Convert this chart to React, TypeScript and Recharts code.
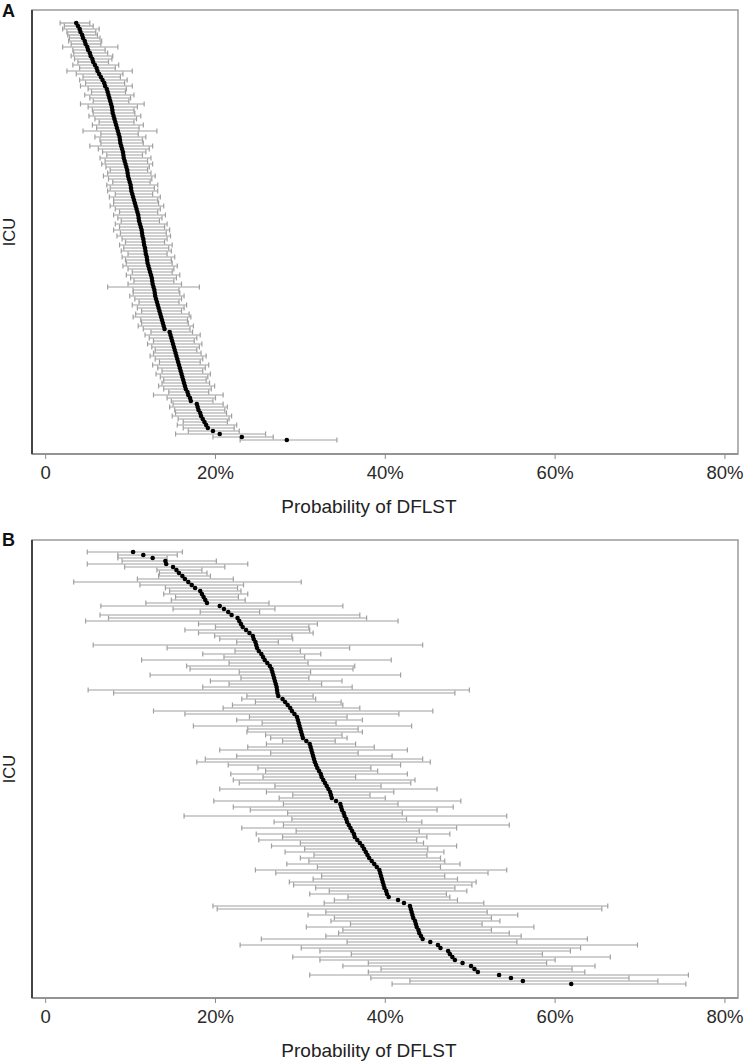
import React from 'react';
import { ScatterChart, Scatter, XAxis, YAxis, ErrorBar, ReferenceArea } from 'recharts';

// ---------- Tick labels ----------
const xTicks = [0, 20, 40, 60, 80];
const tickLabels = ['0', '20%', '40%', '60%', '80%'];
const axisTitle = 'Probability of DFLST';

// ---------- Panel A: ICU-level probability (%) with 95% interval ----------
const aPoint = [
  3.6, 3.8, 4.0, 4.1, 4.3, 4.4, 4.6, 4.7, 4.9, 5.0,
  5.2, 5.3, 5.5, 5.6, 5.8, 6.0, 6.1, 6.3, 6.5, 6.7,
  6.9, 7.0, 7.2, 7.3, 7.4, 7.5, 7.6, 7.7, 7.8, 7.85,
  7.9, 8.0, 8.1, 8.2, 8.3, 8.4, 8.5, 8.6, 8.7, 8.75,
  8.8, 8.9, 9.0, 9.1, 9.15, 9.2, 9.3, 9.4, 9.5, 9.6,
  9.65, 9.7, 9.8, 9.9, 10.0, 10.05, 10.1, 10.2, 10.3, 10.4,
  10.5, 10.6, 10.7, 10.8, 10.9, 10.95, 11.0, 11.1, 11.2, 11.3,
  11.35, 11.4, 11.5, 11.55, 11.6, 11.7, 11.75, 11.8, 11.9, 11.95,
  12.0, 12.1, 12.2, 12.3, 12.4, 12.5, 12.55, 12.6, 12.7, 12.8,
  12.85, 12.9, 13.0, 13.1, 13.2, 13.3, 13.4, 13.5, 13.6, 13.7,
  13.8, 13.9, 14.0, 14.6, 14.7, 14.8, 14.9, 15.0, 15.1, 15.2,
  15.3, 15.4, 15.5, 15.6, 15.7, 15.8, 15.9, 16.0, 16.1, 16.2,
  16.3, 16.4, 16.5, 16.7, 16.8, 17.0, 17.1, 17.8, 17.9, 18.0,
  18.2, 18.3, 18.5, 18.7, 18.9, 19.1, 19.7, 20.5, 23.1, 28.4,
];
const aLow = [
  1.7, 2.2, 2.0, 2.5, 2.6, 2.8, 2.7, 3.0, 2.0, 3.2,
  3.3, 3.0, 3.4, 3.8, 3.2, 4.0, 2.5, 3.6, 4.4, 4.0,
  4.7, 4.1, 5.0, 5.4, 4.6, 5.2, 5.6, 4.1, 5.0, 5.5,
  5.6, 5.1, 5.8, 6.3, 5.5, 6.0, 4.4, 6.5, 5.8, 6.4,
  6.5, 5.2, 6.2, 6.7, 7.2, 6.4, 7.0, 6.6, 7.1, 7.6,
  7.3, 6.8, 7.4, 7.9, 7.2, 7.6, 7.3, 8.2, 7.5, 8.0,
  8.0, 7.6, 8.2, 8.7, 8.0, 8.5, 8.9, 8.2, 8.7, 8.0,
  8.8, 8.4, 9.0, 9.4, 8.7, 9.2, 8.9, 9.7, 9.0, 9.4,
  9.5, 9.1, 9.7, 10.2, 9.5, 10.0, 10.4, 9.7, 7.3, 10.3,
  10.3, 9.9, 10.5, 11.0, 10.2, 10.8, 11.3, 10.6, 10.3, 11.2,
  11.3, 10.9, 11.5, 12.4, 11.7, 12.2, 12.7, 12.0, 12.5, 12.9,
  12.7, 12.3, 12.9, 13.4, 12.6, 13.2, 13.7, 13.0, 13.5, 13.9,
  13.7, 13.3, 13.9, 14.5, 12.7, 14.3, 14.8, 15.0, 14.6, 15.2,
  15.3, 14.9, 15.6, 16.2, 15.5, 16.2, 16.8, 15.3, 19.7, 22.9,
];
const aHigh = [
  5.2, 5.6, 6.3, 5.9, 6.1, 6.4, 6.6, 6.5, 8.5, 7.0,
  7.3, 7.9, 7.8, 7.4, 8.6, 8.2, 10.2, 9.1, 8.8, 9.6,
  9.3, 10.2, 9.5, 9.4, 10.4, 10.0, 9.8, 11.6, 10.8, 10.4,
  10.5, 11.2, 10.7, 10.4, 11.5, 11.0, 13.1, 10.9, 11.8, 11.4,
  11.5, 12.6, 12.2, 11.8, 11.4, 12.4, 12.0, 12.6, 12.2, 12.0,
  12.4, 12.9, 12.5, 12.3, 13.2, 12.8, 13.2, 12.6, 13.5, 13.2,
  13.3, 13.9, 13.5, 13.2, 14.1, 13.7, 13.4, 14.3, 14.0, 14.6,
  14.2, 14.7, 14.3, 14.0, 14.9, 14.5, 14.8, 14.3, 15.2, 14.8,
  14.9, 15.5, 15.1, 14.9, 15.8, 15.4, 15.1, 16.0, 18.1, 15.7,
  15.8, 16.3, 16.0, 15.7, 16.6, 16.3, 16.0, 16.9, 17.1, 16.7,
  16.8, 17.4, 17.0, 17.3, 18.2, 17.8, 17.5, 18.4, 18.1, 17.8,
  18.3, 18.9, 18.5, 18.2, 19.2, 18.8, 18.5, 19.4, 19.1, 18.9,
  19.3, 19.9, 19.5, 19.2, 20.9, 20.0, 19.7, 20.9, 21.4, 21.1,
  21.3, 21.9, 21.6, 21.4, 22.5, 22.2, 22.8, 25.9, 26.8, 34.3,
];

// ---------- Panel B ----------
const bPoint = [
  10.3, 11.5, 12.6, 14.1, 14.2, 15.0, 15.4, 15.7, 16.1, 16.4,
  16.8, 17.2, 17.6, 18.2, 18.4, 18.6, 18.8, 19.0, 20.5, 21.0,
  21.5, 21.9, 22.6, 22.8, 23.0, 23.2, 23.6, 24.0, 24.4, 24.5,
  24.7, 24.8, 24.9, 25.1, 25.4, 25.6, 25.8, 26.1, 26.4, 26.6,
  26.7, 26.8, 26.9, 27.0, 27.1, 27.2, 27.25, 27.3, 27.4, 27.9,
  28.2, 28.5, 28.8, 29.0, 29.3, 29.6, 29.7, 29.8, 29.9, 30.0,
  30.1, 30.2, 30.3, 30.7, 31.1, 31.2, 31.3, 31.4, 31.5, 31.6,
  31.7, 31.85, 32.0, 32.2, 32.4, 32.5, 32.7, 32.9, 33.1, 33.3,
  33.5, 33.6, 33.7, 34.2, 34.7, 34.8, 34.9, 35.1, 35.2, 35.4,
  35.5, 35.7, 35.9, 36.1, 36.3, 36.4, 36.7, 37.0, 37.3, 37.5,
  37.7, 37.9, 38.1, 38.4, 38.7, 39.0, 39.3, 39.4, 39.5, 39.6,
  39.7, 39.8, 39.9, 40.1, 40.2, 40.4, 41.5, 42.2, 42.9, 43.0,
  43.1, 43.2, 43.3, 43.5, 43.6, 43.7, 43.9, 44.0, 44.2, 44.4,
  45.3, 46.2, 46.5, 47.4, 47.6, 47.9, 48.2, 49.1, 50.1, 50.5,
  50.9, 53.4, 54.8, 56.2, 61.9,
];
const bLow = [
  4.9, 8.5, 8.5, 9.0, 4.9, 9.3, 13.1, 13.4, 13.3, 10.8,
  3.3, 11.1, 14.1, 14.6, 13.9, 15.3, 14.8, 11.8, 6.5, 15.0,
  18.2, 6.4, 7.4, 4.7, 18.0, 20.0, 16.4, 18.0, 19.9, 20.5,
  22.5, 5.6, 14.3, 22.3, 18.5, 21.0, 11.3, 21.6, 16.6, 17.0,
  22.8, 12.3, 23.0, 19.4, 21.6, 18.5, 5.0, 8.0, 23.7, 23.1,
  24.7, 22.0, 20.9, 12.7, 16.4, 24.0, 22.5, 25.5, 17.4, 23.8,
  23.7, 25.9, 26.5, 27.9, 26.0, 23.8, 20.5, 26.5, 22.5, 18.8,
  17.8, 21.5, 25.0, 25.9, 21.8, 25.6, 22.1, 22.8, 27.0, 20.5,
  26.0, 29.1, 27.5, 19.8, 28.0, 22.1, 24.1, 28.5, 16.3, 29.0,
  26.9, 28.0, 23.1, 29.5, 24.8, 27.9, 25.1, 30.0, 26.6, 30.5,
  28.2, 31.6, 30.0, 31.0, 28.4, 32.0, 24.7, 27.1, 32.5, 31.5,
  28.7, 29.2, 31.8, 33.4, 31.1, 35.6, 34.0, 32.8, 19.7, 20.2,
  33.0, 30.9, 34.0, 33.6, 35.9, 30.7, 35.0, 34.5, 33.0, 25.4,
  35.5, 22.9, 30.1, 32.3, 36.0, 29.1, 32.3, 38.0, 35.0, 39.5,
  38.0, 31.1, 38.3, 42.9, 40.8,
];
const bHigh = [
  16.1, 15.5, 14.3, 20.1, 23.8, 21.1, 18.4, 19.0, 19.4, 22.1,
  30.1, 23.3, 22.6, 23.0, 23.8, 22.7, 23.5, 26.3, 35.0, 27.0,
  25.2, 37.0, 37.8, 41.5, 32.0, 31.0, 31.1, 31.5, 29.0, 29.1,
  27.4, 44.4, 35.8, 30.0, 32.4, 30.5, 40.7, 30.9, 36.4, 36.2,
  31.2, 41.8, 31.0, 34.9, 32.5, 36.1, 49.9, 48.2, 31.5, 31.8,
  34.8, 35.0, 37.0, 45.6, 41.6, 35.5, 37.3, 34.2, 43.1, 36.8,
  37.3, 34.9, 35.5, 34.1, 36.5, 38.7, 42.6, 36.8, 40.8, 44.4,
  45.3, 41.8, 38.3, 39.1, 42.6, 36.5, 43.5, 43.0, 39.5, 46.1,
  41.0, 38.2, 40.0, 48.9, 41.5, 48.0, 46.1, 42.0, 54.3, 42.5,
  44.3, 54.6, 48.4, 44.0, 47.6, 44.9, 43.7, 44.5, 48.4, 45.0,
  46.9, 44.9, 46.5, 47.0, 48.8, 46.5, 54.3, 52.1, 47.0, 48.5,
  50.7, 50.2, 48.2, 49.6, 47.2, 47.6, 48.5, 51.6, 66.2, 65.5,
  52.0, 55.6, 52.5, 53.5, 51.4, 57.5, 52.5, 54.6, 56.0, 63.8,
  55.5, 69.7, 63.0, 61.8, 58.5, 66.5, 60.0, 59.0, 64.7, 62.0,
  63.5, 75.7, 68.7, 72.1, 75.4,
];

const X_DOMAIN: [number, number] = [-1.61, 81.54];
const FONT = '"Liberation Sans", Arial, Helvetica, sans-serif';

const fmtTick = (v: number) => {
  const i = xTicks.indexOf(v);
  return i >= 0 ? tickLabels[i] : String(v);
};

const Dot = (props: any) => {
  if (props.cx == null || props.cy == null) return <g />;
  return <circle cx={props.cx} cy={props.cy} r={2.3} fill="#000" />;
};
const NoShape = () => <g />;

type PanelProps = {
  points: number[];
  lows: number[];
  highs: number[];
  yDomain: [number, number];
  height: number;
  marginTop: number;
};

function Panel({ points, lows, highs, yDomain, height, marginTop }: PanelProps) {
  const data = points.map((p, i) => ({
    x: p,
    y: i,
    ex: [Math.max(0, +(p - lows[i]).toFixed(3)), Math.max(0, +(highs[i] - p).toFixed(3))],
  }));
  return (
    <ScatterChart
      width={747}
      height={height}
      margin={{ top: marginTop, right: 9, bottom: 6, left: 0 }}
    >
      <ReferenceArea
        x1={X_DOMAIN[0]}
        x2={X_DOMAIN[1]}
        y1={yDomain[0]}
        y2={yDomain[1]}
        fill="none"
        fillOpacity={0}
        stroke="#9a9a9a"
        strokeWidth={1.5}
      />
      <XAxis
        type="number"
        dataKey="x"
        domain={X_DOMAIN}
        ticks={xTicks}
        tickFormatter={fmtTick}
        allowDataOverflow
        height={60}
        axisLine={{ stroke: '#8a8a8a', strokeWidth: 1.5 }}
        tickLine={{ stroke: '#8a8a8a' }}
        tickSize={5}
        tickMargin={7}
        tick={{ fill: '#2a2a2a', fontSize: 18.5, fontFamily: FONT }}
        label={{
          value: axisTitle,
          position: 'insideBottom',
          offset: 1,
          dx: -16,
          fill: '#222',
          fontSize: 19,
          fontFamily: FONT,
        }}
      />
      <YAxis
        type="number"
        dataKey="y"
        domain={yDomain}
        reversed
        allowDataOverflow
        tick={false}
        tickLine={false}
        width={32}
        axisLine={{ stroke: '#444', strokeWidth: 2 }}
      />
      <Scatter data={data} isAnimationActive={false} shape={NoShape}>
        <ErrorBar
          dataKey="ex"
          direction="x"
          width={2.5}
          stroke="#a0a0a0"
          strokeWidth={1.2}
          isAnimationActive={false}
        />
      </Scatter>
      <Scatter data={data} isAnimationActive={false} shape={Dot} />
    </ScatterChart>
  );
}

const labelStyle: React.CSSProperties = {
  position: 'absolute',
  fontFamily: FONT,
  fontWeight: 'bold',
  fontSize: 18,
  lineHeight: '20px',
  color: '#111',
};

const icuStyle = (centerY: number): React.CSSProperties => ({
  position: 'absolute',
  left: 9 - 30,
  top: centerY - 10,
  width: 60,
  height: 20,
  lineHeight: '20px',
  textAlign: 'center',
  transform: 'rotate(-90deg)',
  fontFamily: FONT,
  fontSize: 16.5,
  color: '#222',
});

export default function App() {
  return (
    <div
      style={{
        position: 'absolute',
        left: 0,
        top: 0,
        width: 747,
        height: 1064,
        background: '#fff',
        overflow: 'hidden',
      }}
    >
      <div style={{ position: 'absolute', left: 0, top: 0 }}>
        <Panel
          points={aPoint}
          lows={aLow}
          highs={aHigh}
          yDomain={[-4.33, 143.67]}
          height={520}
          marginTop={10}
        />
      </div>
      <div style={{ position: 'absolute', left: 0, top: 520 }}>
        <Panel
          points={bPoint}
          lows={bLow}
          highs={bHigh}
          yDomain={[-4, 148.67]}
          height={544}
          marginTop={20}
        />
      </div>
      <div style={{ ...labelStyle, left: 2, top: 1 }}>A</div>
      <div style={{ ...labelStyle, left: 2, top: 530 }}>B</div>
      <div style={icuStyle(232)}>ICU</div>
      <div style={icuStyle(769)}>ICU</div>
    </div>
  );
}
